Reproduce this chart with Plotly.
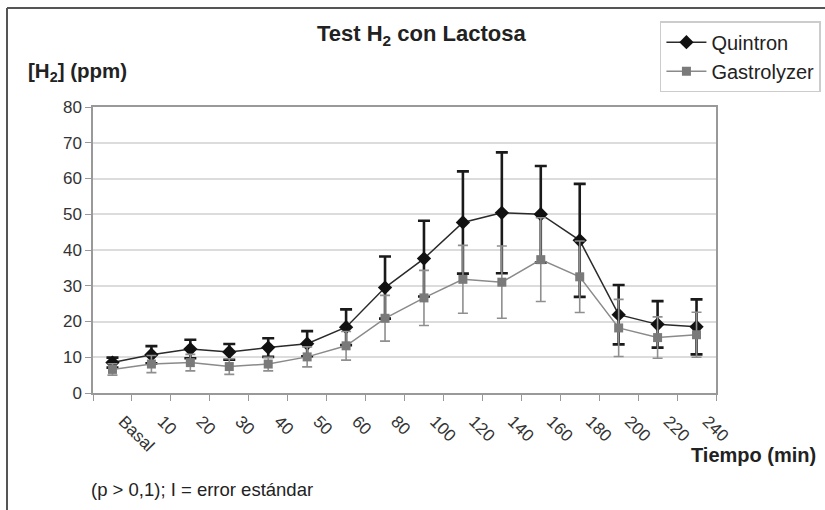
import plotly.graph_objects as go

categories = ["Basal", "10", "20", "30", "40", "50", "60", "80", "100", "120",
              "140", "160", "180", "200", "220", "240"]
quintron = [8.5, 10.7, 12.3, 11.5, 12.7, 13.8, 18.4, 29.5, 37.6, 47.7, 50.4, 50.0,
            42.7, 21.9, 19.2, 18.5]
quintron_err = [1.4, 2.4, 2.6, 2.2, 2.6, 3.5, 5.0, 8.7, 10.6, 14.3, 16.9, 13.5,
                15.8, 8.3, 6.5, 7.7]
gastrolyzer = [6.6, 8.1, 8.5, 7.4, 8.1, 10.1, 13.2, 20.9, 26.6, 31.8, 31.0, 37.3,
               32.5, 18.2, 15.5, 16.3]
gastrolyzer_err = [1.6, 2.4, 2.3, 2.2, 1.9, 2.8, 4.0, 6.4, 7.7, 9.5, 10.1, 11.7,
                   10.0, 8.0, 5.8, 6.3]
y_ticks = [0, 10, 20, 30, 40, 50, 60, 70, 80]

FONT = "Liberation Sans, Arial, sans-serif"

fig = go.Figure()
fig.add_trace(go.Scatter(
    x=categories, y=quintron, name="Quintron", mode="lines+markers",
    line=dict(color="#2a2a2a", width=1.5),
    marker=dict(symbol="diamond", size=11, color="#111111"),
    error_y=dict(type="data", array=quintron_err, visible=True,
                 color="#1a1a1a", thickness=2.6, width=6),
))
fig.add_trace(go.Scatter(
    x=categories, y=gastrolyzer, name="Gastrolyzer", mode="lines+markers",
    line=dict(color="#8a8a8a", width=1.5),
    marker=dict(symbol="square", size=9, color="#7a7a7a"),
    error_y=dict(type="data", array=gastrolyzer_err, visible=True,
                 color="#8f8f8f", thickness=1.6, width=5),
))

fig.update_layout(
    width=825, height=510,
    margin=dict(l=93, r=109, t=107, b=117, autoexpand=False),
    paper_bgcolor="white", plot_bgcolor="white",
    font=dict(family=FONT, size=17, color="#222222"),
    showlegend=True,
    legend=dict(x=0.91, y=1.30, xanchor="left", yanchor="top",
                bordercolor="#cccccc", borderwidth=1.5, itemwidth=40,
                font=dict(size=20, color="#222222"), bgcolor="white"),
    xaxis=dict(type="category", range=[-0.5, len(categories) - 0.5],
               tickangle=45, tickson="boundaries", automargin=False,
               ticks="outside", ticklen=6, tickcolor="#999999",
               ticklabelstandoff=10, ticklabelshift=11,
               showline=True, linecolor="#999999", linewidth=1.5, mirror=True,
               showgrid=False, tickfont=dict(size=17, color="#333333")),
    yaxis=dict(range=[0, 80], tickvals=y_ticks, ticks="outside", ticklen=6,
               automargin=False,
               tickcolor="#999999", showline=True, linecolor="#999999",
               linewidth=1.5, mirror=True, gridcolor="#dcdcdc", gridwidth=1.5,
               zeroline=False, tickfont=dict(size=17, color="#333333")),
)

fig.add_annotation(text="<b>Test H<sub>2</sub> con Lactosa</b>", xref="paper", yref="paper",
                   x=0.5265, y=1.252, xanchor="center", yanchor="middle",
                   showarrow=False, font=dict(size=22, color="#222222"))
fig.add_annotation(text="<b>[H<sub>2</sub>] (ppm)</b>", xref="paper", yref="paper",
                   x=-0.1075, y=1.122, xanchor="left", yanchor="middle",
                   showarrow=False, font=dict(size=20.5, color="#222222"))
fig.add_annotation(text="<b>Tiempo (min)</b>", xref="paper", yref="paper",
                   x=1.1637, y=-0.2168, xanchor="right", yanchor="middle",
                   showarrow=False, font=dict(size=20, color="#222222"))
fig.add_annotation(text="(p > 0,1); I = error estándar", xref="paper", yref="paper",
                   x=-0.0064, y=-0.339, xanchor="left", yanchor="middle",
                   showarrow=False, font=dict(size=18.5, color="#222222"))

# outer chart frame (left and top edges visible)
fig.add_shape(type="line", xref="paper", yref="paper",
              x0=(7 - 93) / 623, x1=(7 - 93) / 623, y0=(393 - 8) / 286, y1=(393 - 520) / 286,
              line=dict(color="#555555", width=2))
fig.add_shape(type="line", xref="paper", yref="paper",
              x0=(7 - 93) / 623, x1=(830 - 93) / 623, y0=(393 - 8) / 286, y1=(393 - 8) / 286,
              line=dict(color="#555555", width=2))

fig.write_html("out.html", config={"displayModeBar": False},
               post_script="document.body.style.margin='0';document.body.style.padding='0';")
